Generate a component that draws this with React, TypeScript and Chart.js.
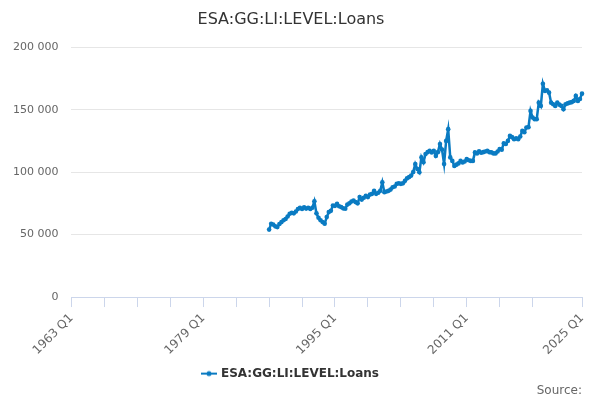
import React, { useEffect, useRef } from "react";
import { Chart, registerables } from "chart.js";

Chart.register(...registerables);

const seriesName = "ESA:GG:LI:LEVEL:Loans";
const firstYear = 1963;
const lastYear = 2025;
const firstDataLabel = "1987 Q1";
const labeledTicks = ["1963 Q1", "1979 Q1", "1995 Q1", "2011 Q1", "2025 Q1"];
const yTicks = [0, 50000, 100000, 150000, 200000];

// Loans, thousands, quarterly from 1987 Q1 to 2025 Q1
const loansValues = [
  54.0, 58.7, 58.0, 56.6,
  56.0, 58.5, 60.0, 61.5,
  62.5, 64.5, 66.7, 67.5,
  67.0, 68.5, 70.5, 71.5,
  70.5, 71.8, 70.8, 71.5,
  70.5, 71.5, 76.7, 67.0,
  63.5, 61.5, 60.0, 58.7,
  64.0, 68.0, 69.0, 73.3,
  73.0, 74.7, 72.7, 72.0,
  71.0, 70.7, 74.0, 75.0,
  76.5, 77.3, 76.0, 75.0,
  80.0, 78.0, 79.5, 81.0,
  80.0, 82.0, 82.6, 85.0,
  82.6, 83.5, 85.0, 91.9,
  83.9, 84.5, 85.0, 86.0,
  87.9, 88.5, 90.6, 91.0,
  90.6, 91.0, 93.0, 95.0,
  96.0, 97.2, 100.0, 106.5,
  102.5, 99.9, 111.8, 108.0,
  114.5, 116.0, 117.0, 115.8,
  117.0, 113.0, 116.0, 122.5,
  118.0, 106.5, 125.0, 134.4,
  111.8, 109.0, 105.0, 106.0,
  107.0, 109.0, 107.8, 108.5,
  110.5, 109.5, 109.0, 109.0,
  115.8, 115.0, 116.6, 115.5,
  116.0, 116.5, 117.0, 116.0,
  115.8, 115.0, 115.0, 116.5,
  118.5, 118.0, 123.0, 122.5,
  125.0, 129.0, 128.0, 126.4,
  127.0, 126.4, 128.5, 133.0,
  132.0, 135.7, 136.0, 149.0,
  143.7, 142.4, 142.4, 155.6,
  153.0, 170.8, 165.0, 165.5,
  163.6, 155.6, 154.3, 153.0,
  155.6, 154.0, 153.0, 150.3,
  154.3, 155.0, 155.6, 156.0,
  157.0, 161.0, 157.0, 158.5,
  162.8,
];

const quarterLabels: string[] = [];
for (let y = firstYear; y <= lastYear; y++) {
  for (let q = 1; q <= 4; q++) {
    if (y === lastYear && q > 1) break;
    quarterLabels.push(`${y} Q${q}`);
  }
}

const LINE_COLOR = "#0a7bc2";
const FONT = "'DejaVu Sans', sans-serif";

function fmt(v: number): string {
  return String(Math.round(v)).replace(/\B(?=(\d{3})+(?!\d))/g, " ");
}

export default function App() {
  const ref = useRef<HTMLCanvasElement | null>(null);

  useEffect(() => {
    document.body.style.margin = "0";
    const canvas = ref.current;
    if (!canvas) return;

    const startIdx = quarterLabels.indexOf(firstDataLabel);
    const data = quarterLabels.map((_, i) => {
      const k = i - startIdx;
      return k >= 0 && k < loansValues.length ? loansValues[k] * 1000 : null;
    });

    const tickIdx: number[] = [];
    for (let i = 0; i < quarterLabels.length; i += 16) tickIdx.push(i);
    const lastIdx = quarterLabels.length - 1;
    const ticksFinal = tickIdx.filter((i) => lastIdx - i >= 16);
    ticksFinal.push(lastIdx);

    const marker = document.createElement("canvas");
    marker.width = 16;
    marker.height = 8;
    const mctx = marker.getContext("2d")!;
    mctx.strokeStyle = LINE_COLOR;
    mctx.lineWidth = 2;
    mctx.beginPath();
    mctx.moveTo(0, 4);
    mctx.lineTo(16, 4);
    mctx.stroke();
    mctx.fillStyle = LINE_COLOR;
    mctx.beginPath();
    mctx.arc(8, 4, 2.5, 0, Math.PI * 2);
    mctx.fill();

    const chart = new Chart(canvas, {
      type: "line",
      data: {
        labels: quarterLabels,
        datasets: [
          {
            label: seriesName,
            data,
            borderColor: LINE_COLOR,
            backgroundColor: LINE_COLOR,
            borderWidth: 2.5,
            pointRadius: 2.3,
            pointHoverRadius: 3,
            pointBorderWidth: 0,
            tension: 0,
            spanGaps: false,
          },
        ],
      },
      options: {
        animation: false,
        responsive: true,
        maintainAspectRatio: false,
        layout: { padding: { left: 0, right: 18, top: 6, bottom: 0 } },
        plugins: {
          title: {
            display: true,
            text: seriesName,
            color: "#333333",
            font: { family: FONT, size: 16, weight: "normal" },
            padding: { top: 4, bottom: 18 },
          },
          subtitle: {
            display: true,
            text: "Source:",
            position: "bottom",
            align: "end",
            color: "#666666",
            font: { family: FONT, size: 12, weight: "normal" },
            padding: { top: -6, bottom: 2 },
          },
          legend: {
            position: "bottom",
            labels: {
              color: "#333333",
              font: { family: FONT, size: 12, weight: "bold" },
              usePointStyle: true,
              padding: 6,
              generateLabels: (ch: any) => {
                const items = (Chart.defaults.plugins.legend.labels as any).generateLabels(ch);
                items.forEach((it: any) => {
                  it.pointStyle = marker;
                });
                return items;
              },
            },
          },
          tooltip: { enabled: false },
        },
        scales: {
          x: {
            type: "category",
            offset: false,
            afterBuildTicks: (scale: any) => {
              scale.ticks = ticksFinal.map((v) => ({ value: v }));
            },
            ticks: {
              autoSkip: false,
              minRotation: 45,
              maxRotation: 45,
              color: "#666666",
              font: { family: FONT, size: 12 },
              padding: 4,
              callback: function (this: any, value: any) {
                const l = quarterLabels[value as number];
                return labeledTicks.includes(l) ? l : "";
              },
            },
            grid: {
              display: true,
              drawOnChartArea: false,
              drawTicks: true,
              tickLength: 10,
              color: "#ccd6eb",
            },
            border: { display: true, color: "#ccd6eb", width: 1 },
          },
          y: {
            min: 0,
            max: 200000,
            afterBuildTicks: (scale: any) => {
              scale.ticks = yTicks.map((v) => ({ value: v }));
            },
            ticks: {
              color: "#666666",
              font: { family: FONT, size: 11 },
              padding: 13,
              callback: (v: any) => fmt(Number(v)),
            },
            grid: { color: "#e6e6e6", drawTicks: false },
            border: { display: false },
          },
        },
      },
    });

    return () => chart.destroy();
  }, []);

  return (
    <div style={{ position: "absolute", left: 0, top: 0, width: 600, height: 400 }}>
      <canvas ref={ref} />
    </div>
  );
}
